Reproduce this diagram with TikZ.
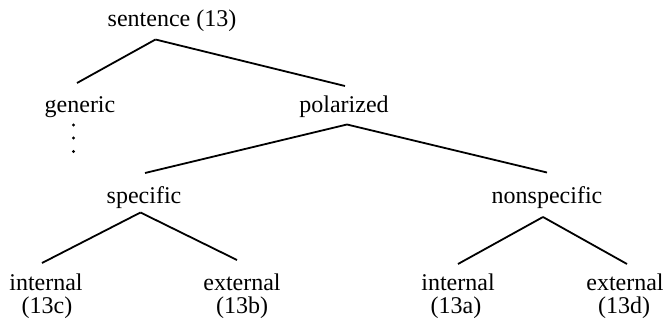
\documentclass[tikz,border=0pt]{standalone}
\usepackage{fontspec}
\setmainfont{Liberation Serif}
\begin{document}
\begin{tikzpicture}[x=1pt,y=-1pt,
  lbl/.style={anchor=base,inner sep=0pt,font=\fontsize{24}{29}\selectfont},
  edge/.style={line width=1.8pt}]
\useasboundingbox (0,0) rectangle (667,329);
% labels
\node[lbl] (sent) at (172,26.5) {sentence (13)};
\node[lbl] (gen) at (80,112) {generic};
\node[lbl] (pol) at (344,112.5) {polarized};
\node[lbl] (spec) at (144,203) {specific};
\node[lbl] (nspec) at (547,203) {nonspecific};
\node[lbl] (intA) at (46,290) {internal};
\node[lbl] (extA) at (242,290) {external};
\node[lbl] (intB) at (458,290) {internal};
\node[lbl] (extB) at (625,290) {external};
\node[lbl] (c13c) at (47,313) {(13c)};
\node[lbl] (c13b) at (242,313) {(13b)};
\node[lbl] (c13a) at (456,313) {(13a)};
\node[lbl] (c13d) at (624,313) {(13d)};
% connector end points
\coordinate (sB) at (155.5,39.5);
\coordinate (gT) at (77,83);
\coordinate (pT) at (345,86);
\coordinate (pB) at (347,124.5);
\coordinate (spT) at (145,173);
\coordinate (nsT) at (547,172.5);
\coordinate (spB) at (140.5,212.5);
\coordinate (iAT) at (42,263);
\coordinate (eAT) at (237,260);
\coordinate (nsB) at (543,217);
\coordinate (iBT) at (458,264);
\coordinate (eBT) at (627,264);
% connectors
\draw[edge] (sB) -- (gT);
\draw[edge] (sB) -- (pT);
\draw[edge] (pB) -- (spT);
\draw[edge] (pB) -- (nsT);
\draw[edge] (spB) -- (iAT);
\draw[edge] (spB) -- (eAT);
\draw[edge] (nsB) -- (iBT);
\draw[edge] (nsB) -- (eBT);
% vertical dots under generic
\fill (73.5,125) circle (1.6);
\fill (73.5,138) circle (1.6);
\fill (73.5,151.5) circle (1.6);
\end{tikzpicture}
\end{document}
